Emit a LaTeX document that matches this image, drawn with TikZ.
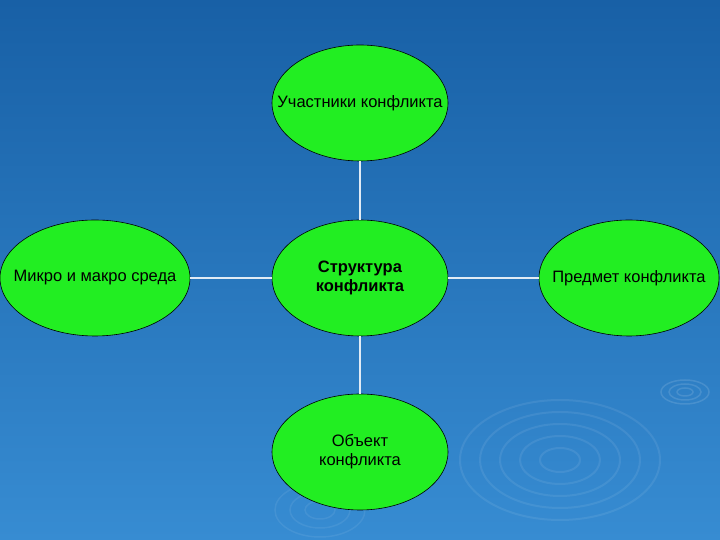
\documentclass[tikz,border=0pt]{standalone}
\usepackage{fontspec}
\setmainfont{Liberation Sans}
\usetikzlibrary{shapes.geometric}
\begin{document}
\begin{tikzpicture}[x=1pt,y=1pt,
  ell/.style={ellipse,draw=black,line width=0.6pt,fill={rgb,255:red,34;green,238;blue,34},minimum width=176pt,minimum height=116pt,inner xsep=-45pt,inner ysep=0pt,align=center,font=\fontsize{16.5}{19}\selectfont},
  link/.style={draw={rgb,255:red,225;green,235;blue,245},line width=1.2pt}]
\shade[top color={rgb,255:red,24;green,96;blue,166},bottom color={rgb,255:red,55;green,140;blue,210}] (0,0) rectangle (720,540);
\useasboundingbox (0,0) rectangle (720,540);
\foreach \r in {20,40,60,80,100}{\draw[white,opacity=0.08,line width=2pt] (560,80) ellipse ({\r} and {\r*0.6});}
\foreach \r in {8,16,24}{\draw[white,opacity=0.12,line width=1.5pt] (685,148) ellipse ({\r} and {\r*0.5});}
\foreach \r in {15,30,45}{\draw[white,opacity=0.07,line width=1.5pt] (320,30) ellipse ({\r} and {\r*0.6});}
\node[ell] (top) at (360,437) {Участники конфликта};
\node[ell] (c) at (360,262) {\textbf{Структура}\\\textbf{конфликта}};
\node[ell] (bot) at (360,88) {Объект\\конфликта};
\node[ell,minimum width=190pt] (l) at (95,262) {Микро и макро среда};
\node[ell,minimum width=180pt] (r) at (629,262) {Предмет конфликта};
\draw[link] (top) -- (c);
\draw[link] (c) -- (bot);
\draw[link] (l) -- (c);
\draw[link] (c) -- (r);
\end{tikzpicture}
\end{document}
